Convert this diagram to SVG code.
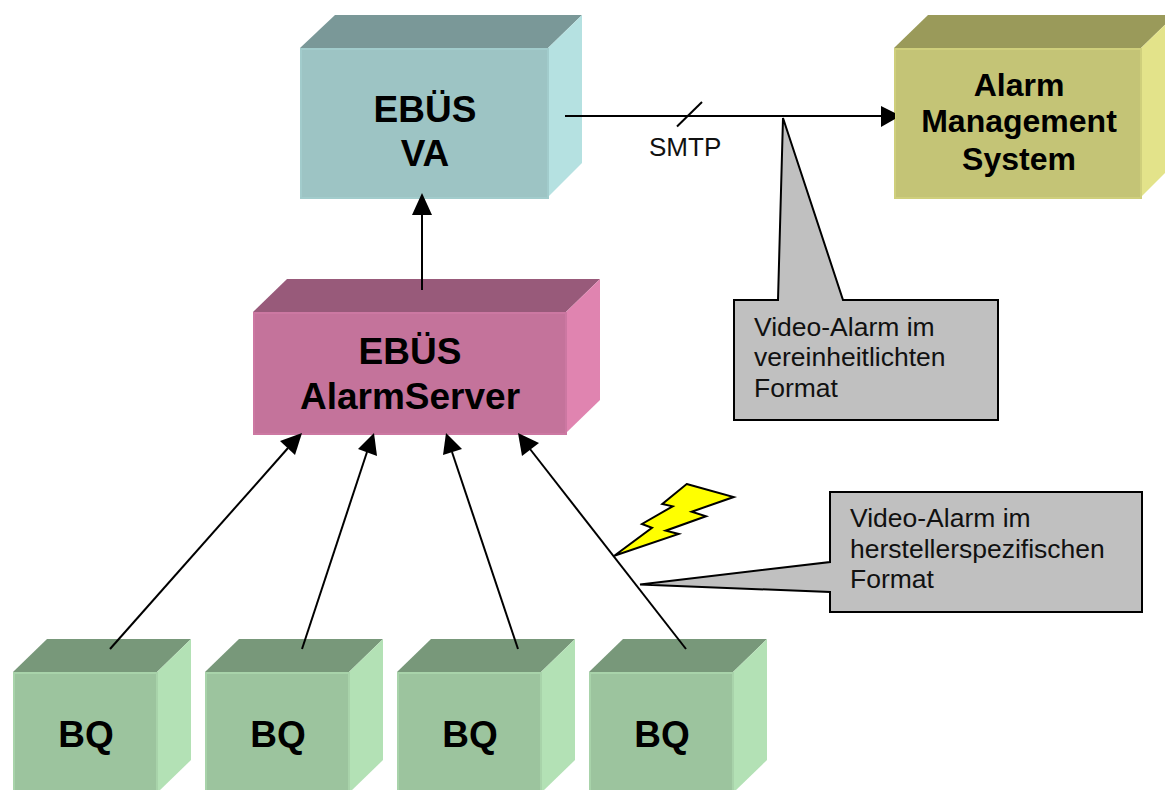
<svg xmlns="http://www.w3.org/2000/svg" width="1165" height="790" viewBox="0 0 1165 790">
<style>
text{font-family:"Liberation Sans",Arial,sans-serif;fill:#000}
.b{font-weight:bold;font-size:37px;text-anchor:middle}
.m{font-weight:bold;font-size:32px;text-anchor:middle}
.n{font-size:26.500px;fill:#111}
.c{fill:#c0c0c0;stroke:#000;stroke-width:2}
.l{stroke:#000;stroke-width:2;fill:none}
.h{fill:#000}
</style>
<rect width="1165" height="790" fill="#fff"/>
<g id="ebues-va">
<polygon points="300,48 335,15 582,15 548,48" fill="#7a9898"/>
<polygon points="548,48 582,15 582,163 548,197" fill="#b5e1e1"/>
<rect x="301" y="49" width="247" height="149" fill="#9dc4c4" stroke="#a2cccc" stroke-width="2"/>
<text class="b" x="425" y="121.500">EBÜS</text><text class="b" x="425" y="166">VA</text>
</g>
<g id="alarm-management-system">
<polygon points="894,48 928,15 1175,15 1141,48" fill="#9a9a5a"/>
<polygon points="1141,48 1175,15 1175,163 1141,197" fill="#e3e38a"/>
<rect x="895" y="49" width="246" height="149" fill="#c4c476" stroke="#cfcf7c" stroke-width="2"/>
<text class="m" x="1019" y="96">Alarm</text><text class="m" x="1019" y="132">Management</text><text class="m" x="1019" y="169.500">System</text>
</g>
<g id="ebues-alarmserver">
<polygon points="253,312 287,279 600,279 566,312" fill="#985a7a"/>
<polygon points="566,312 600,279 600,400 566,433" fill="#e084b0"/>
<rect x="254" y="313" width="312" height="121" fill="#c4739b" stroke="#cc78a2" stroke-width="2"/>
<text class="b" x="410" y="364">EBÜS</text><text class="b" x="410" y="408.500">AlarmServer</text>
</g>
<g id="bq-1">
<polygon points="13,672 47,639 191,639 157,672" fill="#78987a"/>
<polygon points="157,672 191,639 191,760 157,793" fill="#b3e1b5"/>
<rect x="14" y="673" width="143" height="130" fill="#9cc49e" stroke="#a8d3aa" stroke-width="2"/>
<text class="b" x="86" y="746.500">BQ</text>
</g>
<g id="bq-2">
<polygon points="205,672 239,639 383,639 349,672" fill="#78987a"/>
<polygon points="349,672 383,639 383,760 349,793" fill="#b3e1b5"/>
<rect x="206" y="673" width="143" height="130" fill="#9cc49e" stroke="#a8d3aa" stroke-width="2"/>
<text class="b" x="278" y="746.500">BQ</text>
</g>
<g id="bq-3">
<polygon points="397,672 431,639 575,639 541,672" fill="#78987a"/>
<polygon points="541,672 575,639 575,760 541,793" fill="#b3e1b5"/>
<rect x="398" y="673" width="143" height="130" fill="#9cc49e" stroke="#a8d3aa" stroke-width="2"/>
<text class="b" x="470" y="746.500">BQ</text>
</g>
<g id="bq-4">
<polygon points="589,672 623,639 767,639 733,672" fill="#78987a"/>
<polygon points="733,672 767,639 767,760 733,793" fill="#b3e1b5"/>
<rect x="590" y="673" width="143" height="130" fill="#9cc49e" stroke="#a8d3aa" stroke-width="2"/>
<text class="b" x="662" y="746.500">BQ</text>
</g>
<g id="connectors">
<line class="l" x1="422" y1="290" x2="422" y2="212"/><polygon class="h" points="422,193 412,215 432,215"/>
<line class="l" x1="565" y1="116" x2="882" y2="116"/><polygon class="h" points="881,106 895,113 895,119 881,127"/>
<line class="l" x1="677" y1="126.500" x2="702" y2="102"/>
<line class="l" x1="110" y1="649" x2="288" y2="448"/><polygon class="h" points="302,433 280,441 295,455"/>
<line class="l" x1="302" y1="649" x2="367" y2="452"/><polygon class="h" points="374,433 358,449 377,456"/>
<line class="l" x1="518" y1="649" x2="452" y2="452"/><polygon class="h" points="446,433 443,455 462,449"/>
<line class="l" x1="686" y1="649" x2="530" y2="449"/><polygon class="h" points="518,433 522,456 539,443"/>
</g>
<g id="lightning"><polygon points="686.700,484 733.700,497 691.700,511.700 706,516.300 665.700,530.700 678.700,534 614.300,555.700 652,527.700 642,524 672.700,506.300 662.300,504" fill="#ff0" stroke="#000" stroke-width="2"/></g>
<g id="callout-unified">
<polygon class="c" points="734,300 778,300 783,118 843,300 998,300 998,420 734,420"/>
<text class="n" x="754" y="336">Video-Alarm im</text><text class="n" x="754" y="366">vereinheitlichten</text><text class="n" x="754" y="396.500">Format</text>
</g>
<g id="callout-vendor">
<polygon class="c" points="830,492 1142,492 1142,612 830,612 830,592 640,584.500 830,562"/>
<text class="n" x="850" y="527">Video-Alarm im</text><text class="n" x="850" y="558">herstellerspezifischen</text><text class="n" x="850" y="588">Format</text>
</g>
<text class="n" x="649" y="156" style="font-size:26px">SMTP</text>
</svg>
